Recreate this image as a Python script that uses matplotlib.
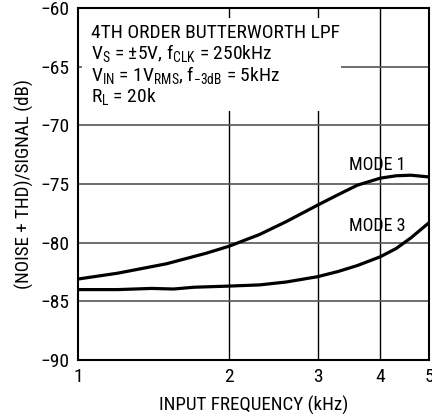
import numpy as np
import matplotlib
matplotlib.use("Agg")
import matplotlib.pyplot as plt
from matplotlib.patches import Rectangle
from matplotlib.ticker import FixedLocator, NullLocator

plt.rcParams['font.family'] = ['Roboto Condensed', 'DejaVu Sans']
plt.rcParams['mathtext.fontset'] = 'custom'
plt.rcParams['mathtext.rm'] = 'Roboto Condensed'
plt.rcParams['mathtext.default'] = 'regular'

# input frequency (kHz) and (noise + THD)/signal (dB)
freq_mode1 = [1.0, 1.2, 1.5, 1.8, 2.0, 2.3, 2.6, 3.0, 3.3, 3.6, 4.0, 4.3, 4.6, 5.0]
thd_mode1 = [-83.1, -82.6, -81.8, -80.9, -80.3, -79.3, -78.2, -76.8, -75.9, -75.1, -74.5, -74.3, -74.25, -74.4]

freq_mode3 = [1.0, 1.2, 1.4, 1.55, 1.7, 2.0, 2.3, 2.6, 3.0, 3.3, 3.6, 4.0, 4.3, 4.6, 5.0]
thd_mode3 = [-84.0, -84.0, -83.9, -83.95, -83.8, -83.7, -83.6, -83.35, -82.9, -82.45, -81.95, -81.2, -80.5, -79.6, -78.3]

x_ticks = [1, 2, 3, 4, 5]
y_ticks = [-90, -85, -80, -75, -70, -65, -60]

fig = plt.figure(figsize=(4.32, 4.17), dpi=100)
ax = fig.add_axes([0.1806, 0.1367, 0.8124, 0.8441])

ax.set_xscale('log')
ax.set_xlim(1, 5)
ax.set_ylim(-90, -60)
ax.xaxis.set_major_locator(FixedLocator(x_ticks))
ax.xaxis.set_minor_locator(NullLocator())
ax.set_xticklabels([str(t) for t in x_ticks])
ax.set_yticks(y_ticks)
ax.set_yticklabels(['\u2212' + str(-t) for t in y_ticks])
ax.tick_params(length=0, labelsize=14, pad=6)

for t in x_ticks[1:-1]:
    ax.axvline(t, color='black', lw=1.0, zorder=1)
for t in y_ticks[1:-1]:
    ax.axhline(t, color='#555555', lw=1.2, zorder=1)

for s in ax.spines.values():
    s.set_linewidth(1.5)
    s.set_zorder(5)

# white area behind the condition text
ax.add_patch(Rectangle((0.011, 0.708), 0.738, 0.264, transform=ax.transAxes,
                       facecolor='white', edgecolor='none', zorder=2))

ax.plot(freq_mode1, thd_mode1, color='black', lw=2.3, zorder=3, solid_capstyle='butt')
ax.plot(freq_mode3, thd_mode3, color='black', lw=2.3, zorder=3, solid_capstyle='butt')

ax.text(3.47, -73.4, 'MODE 1', fontsize=13, va='center', ha='left', zorder=4)
ax.text(3.47, -78.6, 'MODE 3', fontsize=13, va='center', ha='left', zorder=4)

lines = ['4TH ORDER BUTTERWORTH LPF',
         r'V$_S$ = $\pm$5V, f$_{CLK}$ = 250kHz',
         'V$_{IN}$ = 1V$_{RMS}$, f$_{\u22123dB}$ = 5kHz',
         r'R$_L$ = 20k']
baselines = [38.3, 59.3, 80.5, 101.5]
for txt, yb in zip(lines, baselines):
    ax.text((91 - 78) / 351, (360 - yb) / 352, txt, transform=ax.transAxes,
            fontsize=14, va='baseline', ha='left', zorder=4)

ax.set_xlabel('INPUT FREQUENCY (kHz)', fontsize=13.7, labelpad=7)
ax.set_ylabel('(NOISE + THD)/SIGNAL (dB)', fontsize=13.7, labelpad=5)

fig.savefig('out.png', dpi=100)
